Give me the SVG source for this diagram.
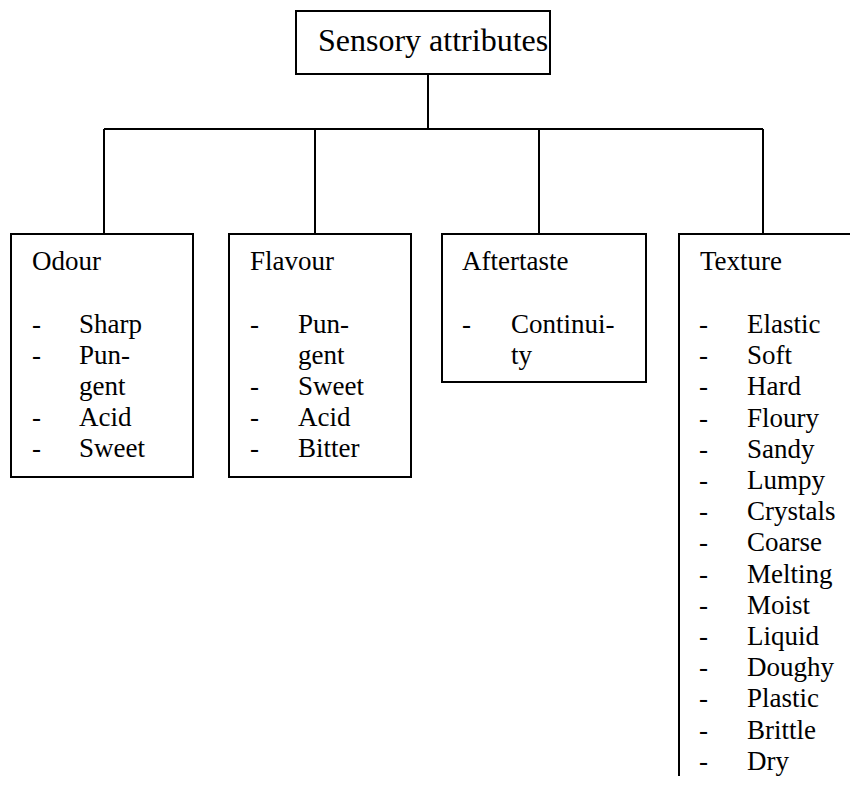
<svg xmlns="http://www.w3.org/2000/svg" width="850" height="785" viewBox="0 0 850 785">
  <style>
    .box { fill: #ffffff; stroke: #000000; stroke-width: 2; }
    .wire { fill: none; stroke: #000000; stroke-width: 2; }
    text { font-family: "Liberation Serif", "Times New Roman", serif; font-size: 27px; fill: #000000; }
    .title { font-size: 32px; }
  </style>
  <rect width="850" height="785" fill="#ffffff"/>

  <!-- connectors -->
  <g id="connectors" class="wire">
    <line x1="428" y1="74" x2="428" y2="129"/>
    <line x1="104" y1="129" x2="763" y2="129"/>
    <line x1="104" y1="129" x2="104" y2="234"/>
    <line x1="315" y1="129" x2="315" y2="234"/>
    <line x1="539" y1="129" x2="539" y2="234"/>
    <line x1="763" y1="129" x2="763" y2="234"/>
  </g>

  <!-- root -->
  <g id="sensory-attributes">
    <rect class="box" x="296" y="11" width="254" height="63"/>
    <text class="title" x="318" y="51">Sensory attributes</text>
  </g>

  <!-- odour -->
  <g id="odour">
    <rect class="box" x="11" y="234" width="182" height="243"/>
    <text x="32" y="270">Odour</text>
    <text x="32" y="333">-</text><text x="79" y="333">Sharp</text>
    <text x="32" y="364">-</text><text x="79" y="364">Pun-</text>
    <text x="79" y="395">gent</text>
    <text x="32" y="426">-</text><text x="79" y="426">Acid</text>
    <text x="32" y="457">-</text><text x="79" y="457">Sweet</text>
  </g>

  <!-- flavour -->
  <g id="flavour">
    <rect class="box" x="229" y="234" width="182" height="243"/>
    <text x="250" y="270">Flavour</text>
    <text x="250" y="333">-</text><text x="298" y="333">Pun-</text>
    <text x="298" y="364">gent</text>
    <text x="250" y="395">-</text><text x="298" y="395">Sweet</text>
    <text x="250" y="426">-</text><text x="298" y="426">Acid</text>
    <text x="250" y="457">-</text><text x="298" y="457">Bitter</text>
  </g>

  <!-- aftertaste -->
  <g id="aftertaste">
    <rect class="box" x="442" y="234" width="204" height="148"/>
    <text x="462" y="270">Aftertaste</text>
    <text x="462" y="333">-</text><text x="511" y="333">Continui-</text>
    <text x="511" y="364">ty</text>
  </g>

  <!-- texture (box runs past the right and bottom edges) -->
  <g id="texture">
    <path class="wire" d="M679,776 V234 H852"/>
    <text x="700" y="270">Texture</text>
    <g>
      <text x="699" y="333">-</text><text x="747" y="333">Elastic</text>
      <text x="699" y="364.2">-</text><text x="747" y="364.2">Soft</text>
      <text x="699" y="395.4">-</text><text x="747" y="395.4">Hard</text>
      <text x="699" y="426.6">-</text><text x="747" y="426.6">Floury</text>
      <text x="699" y="457.8">-</text><text x="747" y="457.8">Sandy</text>
      <text x="699" y="489">-</text><text x="747" y="489">Lumpy</text>
      <text x="699" y="520.2">-</text><text x="747" y="520.2">Crystals</text>
      <text x="699" y="551.4">-</text><text x="747" y="551.4">Coarse</text>
      <text x="699" y="582.6">-</text><text x="747" y="582.6">Melting</text>
      <text x="699" y="613.8">-</text><text x="747" y="613.8">Moist</text>
      <text x="699" y="645">-</text><text x="747" y="645">Liquid</text>
      <text x="699" y="676.2">-</text><text x="747" y="676.2">Doughy</text>
      <text x="699" y="707.4">-</text><text x="747" y="707.4">Plastic</text>
      <text x="699" y="738.6">-</text><text x="747" y="738.6">Brittle</text>
      <text x="699" y="769.8">-</text><text x="747" y="769.8">Dry</text>
    </g>
  </g>
</svg>
